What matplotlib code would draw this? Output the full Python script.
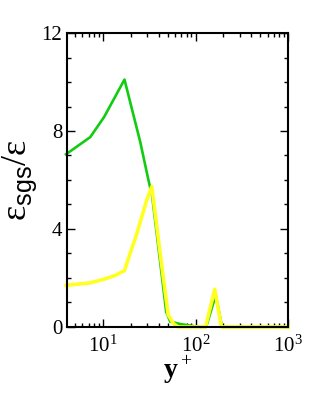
import numpy as np
import matplotlib
matplotlib.use("Agg")
import matplotlib.pyplot as plt
from matplotlib.ticker import LogLocator, MultipleLocator

plt.rcParams['font.family'] = ['Liberation Serif', 'DejaVu Serif']
plt.rcParams['mathtext.fontset'] = 'custom'
plt.rcParams['mathtext.rm'] = 'Liberation Serif'
plt.rcParams['mathtext.sf'] = 'Liberation Sans'
plt.rcParams['mathtext.bf'] = 'Liberation Serif:bold'

# green curve
yp_green = [4.0, 7.3, 10.3, 17.1, 25.3, 31.0, 34.0, 41.5, 48.2, 53.2, 68.0, 94.0, 112.0,
            130.0, 165.0, 193.0, 1000.0]
eps_green = [7.05, 7.75, 8.57, 10.1, 7.55, 6.0, 5.35, 2.65, 0.62, 0.22, 0.12, 0.04, 0.0,
             0.0, 1.3, 0.0, 0.0]

# yellow curve
yp_yellow = [4.0, 7.3, 10.3, 13.5, 17.1, 18.1, 23.2, 29.8, 33.7, 41.5, 50.6, 57.4, 64.7,
             128.0, 161.0, 190.0, 1000.0]
eps_yellow = [1.7, 1.8, 1.95, 2.1, 2.3, 2.6, 3.8, 5.2, 5.73, 3.0, 0.5, 0.15, 0.0,
              0.0, 1.54, 0.0, 0.0]

fig = plt.figure(figsize=(3.14, 3.93), dpi=100)
ax = fig.add_axes([0.2134, 0.168, 0.7046, 0.748])

ax.plot(yp_green, eps_green, color='#11cc11', lw=1.9, clip_on=False)
ax.plot(yp_yellow, eps_yellow, color='#ffff22', lw=2.6, clip_on=False)

ax.set_xscale('log')
ax.set_xlim(4.1, 1000)
ax.set_ylim(0, 12)
ax.yaxis.set_major_locator(MultipleLocator(4))
ax.yaxis.set_minor_locator(MultipleLocator(1))
ax.xaxis.set_major_locator(LogLocator(base=10))
ax.xaxis.set_minor_locator(LogLocator(base=10, subs=np.arange(2, 10)))

ax.tick_params(which='both', direction='in', top=True, right=True, width=1.0,
               labelsize=15, colors='black')
ax.tick_params(which='major', length=6)
ax.tick_params(which='minor', length=3)
ax.tick_params(axis='x', pad=6)
for sp in ax.spines.values():
    sp.set_linewidth(1.5)
    sp.set_zorder(3)

ax.set_xlabel('y$^+$', fontsize=20, fontweight='bold', labelpad=-2)
ax.set_ylabel('ε$_{\\mathsf{sgs}}$/ε', fontsize=26, labelpad=2)

fig.savefig('out.png', dpi=100)
